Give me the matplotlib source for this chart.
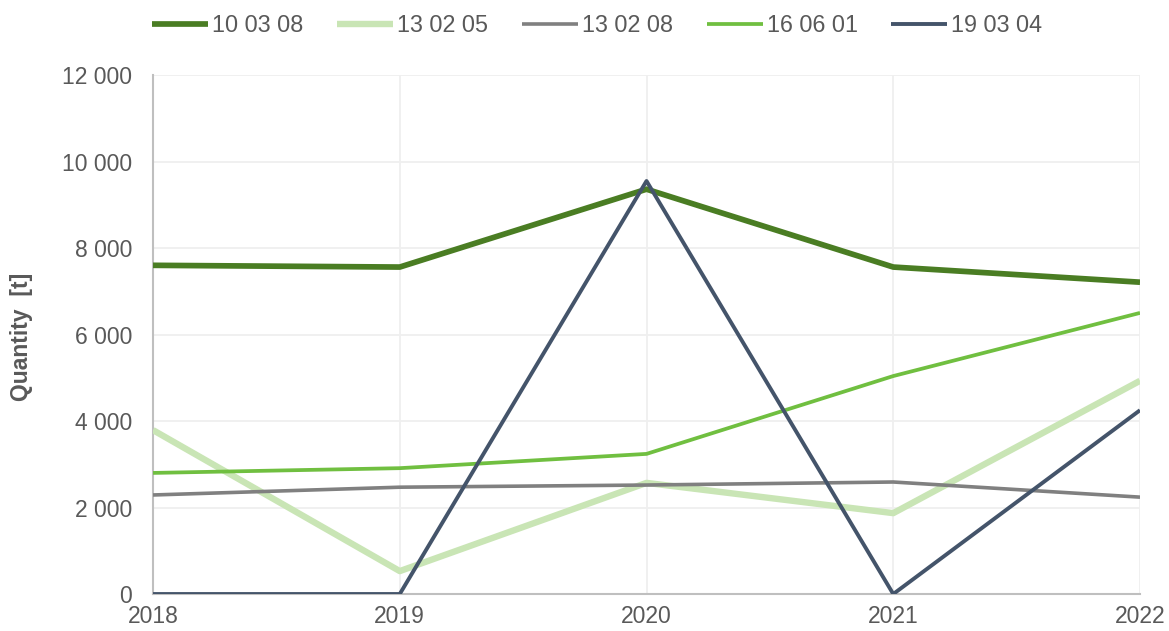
import matplotlib
matplotlib.use("Agg")
import matplotlib.pyplot as plt
from matplotlib.ticker import FuncFormatter

plt.rcParams['font.family'] = ['Liberation Sans', 'DejaVu Sans']

years = [2018, 2019, 2020, 2021, 2022]
codes = ["10 03 08", "13 02 05", "13 02 08", "16 06 01", "19 03 04"]
q_100308 = [7600, 7560, 9360, 7560, 7210]
q_130205 = [3790, 530, 2570, 1870, 4930]
q_130208 = [2290, 2470, 2520, 2590, 2240]
q_160601 = [2800, 2910, 3240, 5040, 6500]
q_190304 = [0, 0, 9550, 0, 4250]

series = [q_100308, q_130205, q_130208, q_160601, q_190304]
colors = ["#4a7d23", "#c9e5b5", "#808080", "#70bf40", "#44546a"]
widths = [4.1, 4.6, 2.6, 2.7, 2.8]

fig = plt.figure(figsize=(11.69, 6.31), dpi=100)
ax = fig.add_axes([0.1309, 0.0586, 0.8443, 0.8225])

for vals, code, col, lw in zip(series, codes, colors, widths):
    ax.plot(years, vals, color=col, lw=lw, label=code, solid_capstyle='butt', zorder=3)

ax.set_xlim(2018, 2022)
ax.set_ylim(0, 12000)
ax.set_xticks(years)
ax.set_yticks(range(0, 12001, 2000))
ax.yaxis.set_major_formatter(FuncFormatter(lambda v, p: f"{int(v):,}".replace(",", " ")))

ax.grid(True, color="#efefef", lw=1.3, zorder=0)
for s in ["top", "right"]:
    ax.spines[s].set_visible(False)
for s in ["left", "bottom"]:
    ax.spines[s].set_color("#bfbfbf")
    ax.spines[s].set_linewidth(1.5)
ax.tick_params(length=0, labelsize=16.5, labelcolor="#595959")
ax.tick_params(axis='y', pad=15)
ax.tick_params(axis='x', pad=8)

ax.set_ylabel("Quantity  [t]", fontsize=16.5, fontweight='bold', color="#595959")
ax.yaxis.set_label_coords(-0.1216, 0.496)

fig.legend(loc='center left', bbox_to_anchor=(152 / 1169, 1 - 26 / 631), ncol=5,
           frameon=False, borderpad=0, borderaxespad=0,
           fontsize=16.8, handlelength=2.4, handletextpad=0.17, columnspacing=1.45,
           labelcolor="#595959")

fig.savefig("out.png", dpi=100)
